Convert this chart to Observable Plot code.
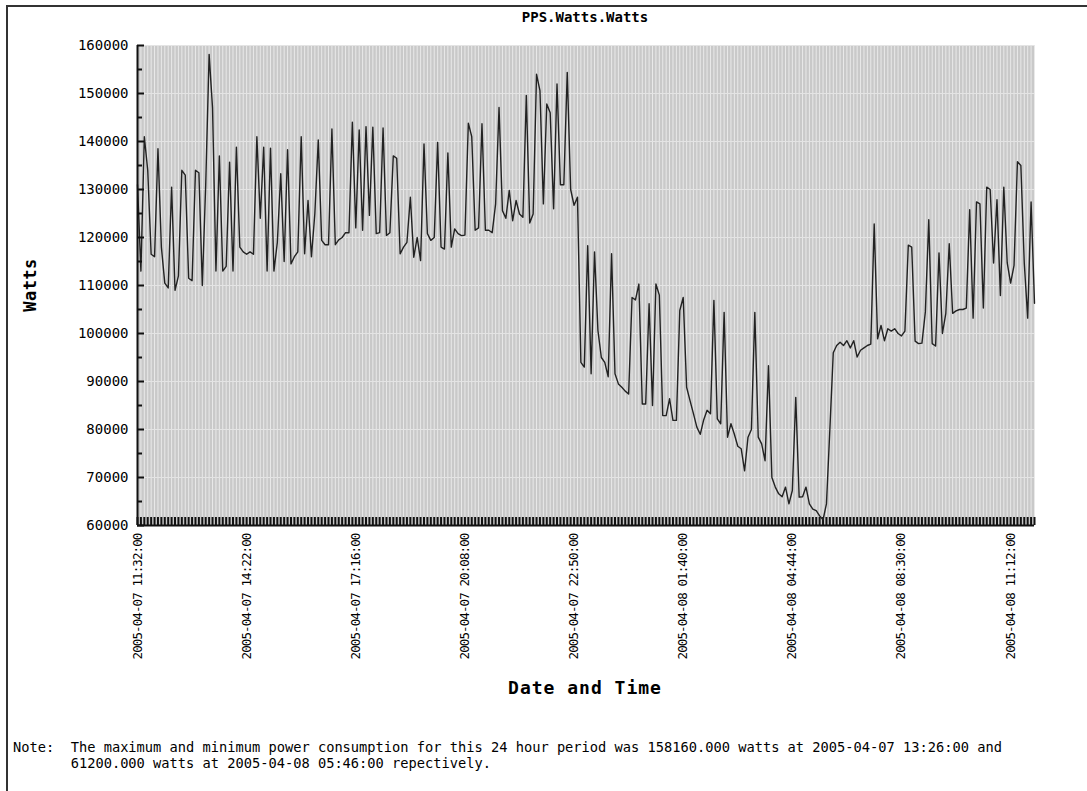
<!DOCTYPE html>
<html>
<head>
<meta charset="utf-8">
<script src="https://cdn.jsdelivr.net/npm/d3@7"></script>
<script src="https://cdn.jsdelivr.net/npm/@observablehq/plot@0.6"></script>
<style>
html, body { margin: 0; padding: 0; background: #fff; }
#wrap { position: relative; width: 1087px; height: 791px; overflow: hidden; font-family: "DejaVu Sans Mono", monospace; color: #000; }
#frame { position: absolute; left: 6px; top: 5px; width: 1200px; height: 900px; border-top: 2px solid #333; border-left: 2px solid #333; }
#chart { position: absolute; left: 0; top: 0; }
#title { position: absolute; left: 385px; width: 400px; top: 9px; text-align: center; font-weight: bold; font-size: 14px; }
#ylabel { position: absolute; left: 30px; top: 285px; transform: translate(-50%, -50%) rotate(-90deg); font-weight: bold; font-size: 17px; letter-spacing: 0.5px; white-space: nowrap; }
#xlabel { position: absolute; left: 385px; width: 400px; top: 677px; text-align: center; font-weight: bold; font-size: 18px; letter-spacing: 1px; }
#note { position: absolute; left: 13px; top: 739px; font-size: 13.7px; line-height: 16px; white-space: pre; }
#chart g[aria-label="x-axis tick label"] text { letter-spacing: -0.9px; }
</style>
</head>
<body>
<div id="wrap">
  <div id="frame"></div>
  <div id="chart"></div>
  <div id="title">PPS.Watts.Watts</div>
  <div id="ylabel">Watts</div>
  <div id="xlabel">Date and Time</div>
  <div id="note"></div>
</div>
<script>
// Power readings (watts), one per sample
const watts = [
  131000,113000,141000,134000,116500,116000,138500,118000,110500,109500,
  130500,109000,112000,134000,133000,111500,111000,134000,133500,110000,
  131000,158160,147000,113000,137000,113000,114000,135700,113000,138800,
  118000,117000,116500,117000,116500,141000,124000,138800,113000,138600,
  113000,119000,133300,115000,138300,
  114500,116000,117000,141000,116600,127700,116000,125000,140300,119400,
  118500,118500,142600,118500,119500,120000,121000,121000,144000,122000,
  142400,121500,143100,124600,143000,120800,121000,142800,120400,121000,
  137000,136500,116600,118000,119000,128400,115900,120000,115200,139500,
  120800,119400,120000,139800,
  118000,117600,137600,118000,121800,120800,120400,120500,143800,141000,
  121500,122000,143700,121500,121500,121000,127000,147100,125600,124000,
  129800,123500,127700,124900,124200,149600,123000,124900,154000,150600,
  127000,147800,146000,126000,152000,131000,131000,154400,130000,126700,
  128400,94000,93000,118300,
  91600,117000,100600,95000,94000,91000,116600,91600,89500,88800,
  88000,87400,107500,107000,110300,85300,85300,106200,85000,110300,
  108000,82900,82900,86400,81900,81900,104800,107500,88800,86000,
  83300,80500,79000,82000,84000,83300,106900,82200,81200,104400,
  78400,81200,79000,76500,
  76000,71400,78400,80000,104400,78400,77000,73500,93300,70000,
  68000,66600,66000,68000,64500,67300,86700,65900,66000,68000,
  64500,63400,63100,62000,61200,64500,80000,96000,97500,98200,
  97500,98500,97000,98500,95100,96500,97000,97500,97800,122800,
  98900,101700,98500,
  101000,100500,101000,100000,99500,100500,118400,118000,98400,97900,
  98000,104500,123700,97900,97400,116800,100000,104200,118700,104200,
  104700,105000,105000,105300,125800,103200,127400,127000,105300,130500,
  130000,114700,127900,107900,130500,114700,110500,114200,135800,135000,
  114700,103200,127400,106300
];

// X tick labels and the sample index each one sits on
const tickLabels = [
  "2005-04-07 11:32:00", "2005-04-07 14:22:00", "2005-04-07 17:16:00",
  "2005-04-07 20:08:00", "2005-04-07 22:50:00", "2005-04-08 01:40:00",
  "2005-04-08 04:44:00", "2005-04-08 08:30:00", "2005-04-08 11:12:00"
];
const tickIndex = [0, 32, 64, 96, 128, 160, 192, 224, 256];

// Y axis ticks
const yTicks = [60000, 70000, 80000, 90000, 100000, 110000, 120000, 130000, 140000, 150000, 160000];
const yMinor = [65000, 75000, 85000, 95000, 105000, 115000, 125000, 135000, 145000, 155000];

const noteLines = [
  "Note:  The maximum and minimum power consumption for this 24 hour period was 158160.000 watts at 2005-04-07 13:26:00 and",
  "       61200.000 watts at 2005-04-08 05:46:00 repectively."
];

const idx = d3.range(watts.length);
const data = watts.map((w, i) => ({i, w}));
const plotW = 1087 - 137 - 53;
const plotH = 680 - 45 - 155;

const chart = Plot.plot({
  width: 1087,
  height: 680,
  marginLeft: 137,
  marginRight: 53,
  marginTop: 45,
  marginBottom: 155,
  style: {fontFamily: "DejaVu Sans Mono", color: "#000", background: "transparent", overflow: "visible"},
  x: {domain: [0, watts.length - 1]},
  y: {domain: [60000, 160000]},
  marks: [
    Plot.frame({fill: "#c9c9c9", stroke: null}),
    Plot.ruleX(idx, {x: d => d, stroke: "#e9e9e9", strokeWidth: 1}),
    Plot.ruleY(yTicks, {y: d => d, stroke: "#e4e4e4", strokeWidth: 1}),
    Plot.tickX(idx, {x: d => d, stroke: "#111", strokeWidth: 2, insetTop: plotH - 8}),
    Plot.line(data, {x: "i", y: "w", stroke: "#222", strokeWidth: 1.4}),
    Plot.ruleX([0], {stroke: "#111", strokeWidth: 2}),
    Plot.ruleY([60000], {stroke: "#111", strokeWidth: 2}),
    Plot.tickY(yTicks, {y: d => d, stroke: "#111", strokeWidth: 2, insetRight: plotW - 7}),
    Plot.tickY(yMinor, {y: d => d, stroke: "#111", strokeWidth: 2, insetRight: plotW - 5}),
    Plot.axisY({ticks: yTicks, tickSize: 0, tickPadding: 9, fontSize: 14, label: null, tickFormat: d3.format("d")}),
    Plot.axisX({ticks: tickIndex, tickSize: 0, tickPadding: 8, tickRotate: -90, fontSize: 12.5, label: null,
      tickFormat: d => tickLabels[tickIndex.indexOf(d)]})
  ]
});
document.getElementById("chart").appendChild(chart);
document.getElementById("note").textContent = noteLines.join("\n");
</script>
</body>
</html>
